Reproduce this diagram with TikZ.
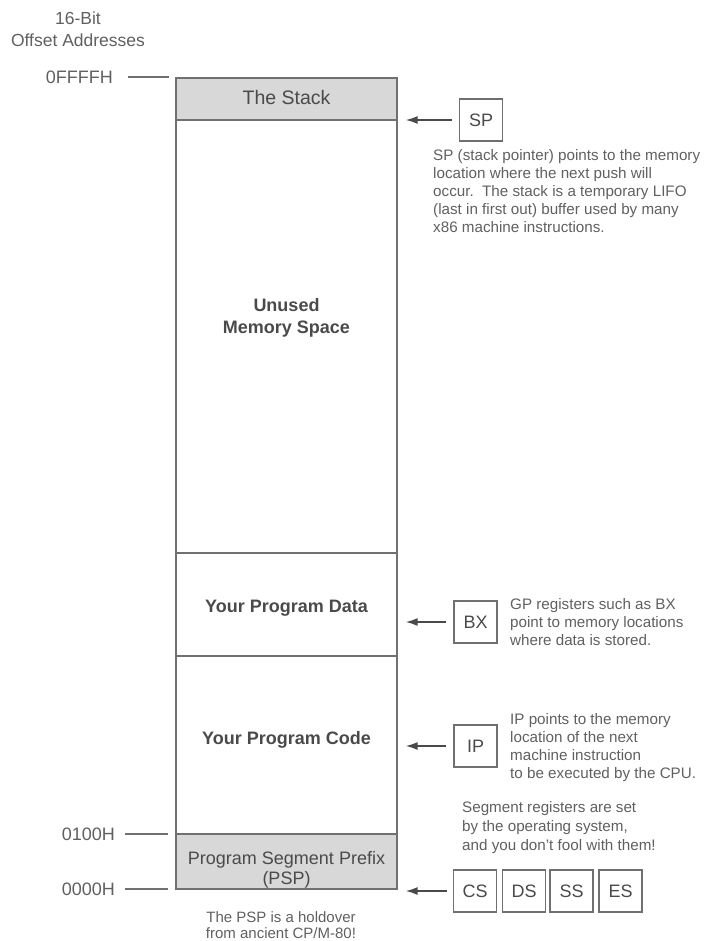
\documentclass[tikz,border=0pt]{standalone}
\usepackage{fontspec}
\setmainfont{Liberation Sans}
\usetikzlibrary{arrows.meta}
\definecolor{linegray}{HTML}{707070}
\definecolor{txtgray}{HTML}{4A4A4A}
\definecolor{descgray}{HTML}{606060}
\definecolor{fillgray}{HTML}{D8D8D8}
\begin{document}
\begin{tikzpicture}[x=1pt,y=-1pt,
  region/.style={draw=linegray, line width=1.4pt, minimum width=221pt, inner sep=0pt},
  title/.style={text=txtgray, inner sep=0pt, align=center, font=\fontsize{18}{22}\selectfont},
  btitle/.style={text=txtgray, inner sep=0pt, align=center, font=\fontsize{18}{22}\selectfont\bfseries},
  regbox/.style={draw=linegray, line width=1.2pt, minimum width=43pt, minimum height=42pt, inner sep=0pt, text=txtgray, font=\fontsize{18}{20}\selectfont},
  desc/.style={align=left, anchor=west, inner sep=0pt, text=descgray, font=\fontsize{15.2}{18}\selectfont},
  addr/.style={text=descgray, inner sep=0pt, font=\fontsize{18}{22}\selectfont},
  ptr/.style={draw=txtgray, line width=1.5pt, -{Latex[length=12pt,width=8pt]}},
  tick/.style={draw=linegray, line width=1.3pt}]
\useasboundingbox (0,0) rectangle (705,941);

% memory column
\node[region, fill=fillgray, minimum height=42pt] (stack) at (286.5,99) {};
\node[region, minimum height=433pt] (unused) at (286.5,336.5) {};
\node[region, minimum height=103pt] (data) at (286.5,604.5) {};
\node[region, minimum height=178pt] (code) at (286.5,745) {};
\node[region, fill=fillgray, minimum height=55pt] (psp) at (286.5,861.5) {};

\node[title, font=\fontsize{19.5}{22}\selectfont] (tstack) at (286.5,98) {The Stack};
\node[btitle] (tunused) at (286.5,318) {Unused\\Memory Space};
\node[btitle] (tdata) at (286.5,608) {Your Program Data};
\node[btitle] (tcode) at (286.5,740) {Your Program Code};
\node[title, font=\fontsize{18}{19.5}\selectfont] (tpsp) at (286.5,870) {Program Segment Prefix\\(PSP)};
\node[title, font=\fontsize{15}{16.5}\selectfont, text=descgray] (tnote) at (281,925) {The PSP is a holdover\\from ancient CP/M-80!};

% address labels
\node[addr, align=center, font=\fontsize{17.5}{22}\selectfont] (hdr) at (78,29) {16-Bit\\Offset Addresses};
\node[addr, anchor=east] (aF) at (113,77) {0FFFFH};
\node[addr, anchor=east] (a1) at (115,834) {0100H};
\node[addr, anchor=east] (a0) at (115,889) {0000H};
\draw[tick, shorten <=15pt, shorten >=6pt] (aF.east) -- (aF.east -| stack.west);
\draw[tick, shorten <=10pt, shorten >=7pt] (a1.east) -- (a1.east -| psp.west);
\draw[tick, shorten <=10pt, shorten >=7pt] (a0.east) -- (a0.east -| psp.west);

% registers
\node[regbox] (sp) at (481,120) {SP};
\node[regbox] (bx) at (475.5,622) {BX};
\node[regbox] (ip) at (475.5,746) {IP};
\node[regbox] (cs) at (475,891) {CS};
\node[regbox] (ds) at (524,891) {DS};
\node[regbox] (ss) at (571.5,891) {SS};
\node[regbox] (es) at (620.5,891) {ES};

\draw[ptr, shorten <=7pt, shorten >=8pt] (sp.west) -- (sp.west -| stack.east);
\draw[ptr, shorten <=7pt, shorten >=8pt] (bx.west) -- (bx.west -| data.east);
\draw[ptr, shorten <=7pt, shorten >=8pt] (ip.west) -- (ip.west -| code.east);
\draw[ptr, shorten <=6pt, shorten >=8pt] (cs.west) -- (cs.west -| psp.east);

% descriptions
\node[desc] (dsp) at (433,191.5) {SP (stack pointer) points to the memory\\location where the next push will\\occur.\ \ The stack is a temporary LIFO\\(last in first out) buffer used by many\\x86 machine instructions.};
\node[desc] (dbx) at (510,622) {GP registers such as BX\\point to memory locations\\where data is stored.};
\node[desc] (dip) at (510,747.5) {IP points to the memory\\location of the next\\machine instruction\\to be executed by the CPU.};
\node[desc, font=\fontsize{15.2}{19}\selectfont] (dseg) at (462,828) {Segment registers are set\\by the operating system,\\and you don't fool with them!};
\end{tikzpicture}
\end{document}
